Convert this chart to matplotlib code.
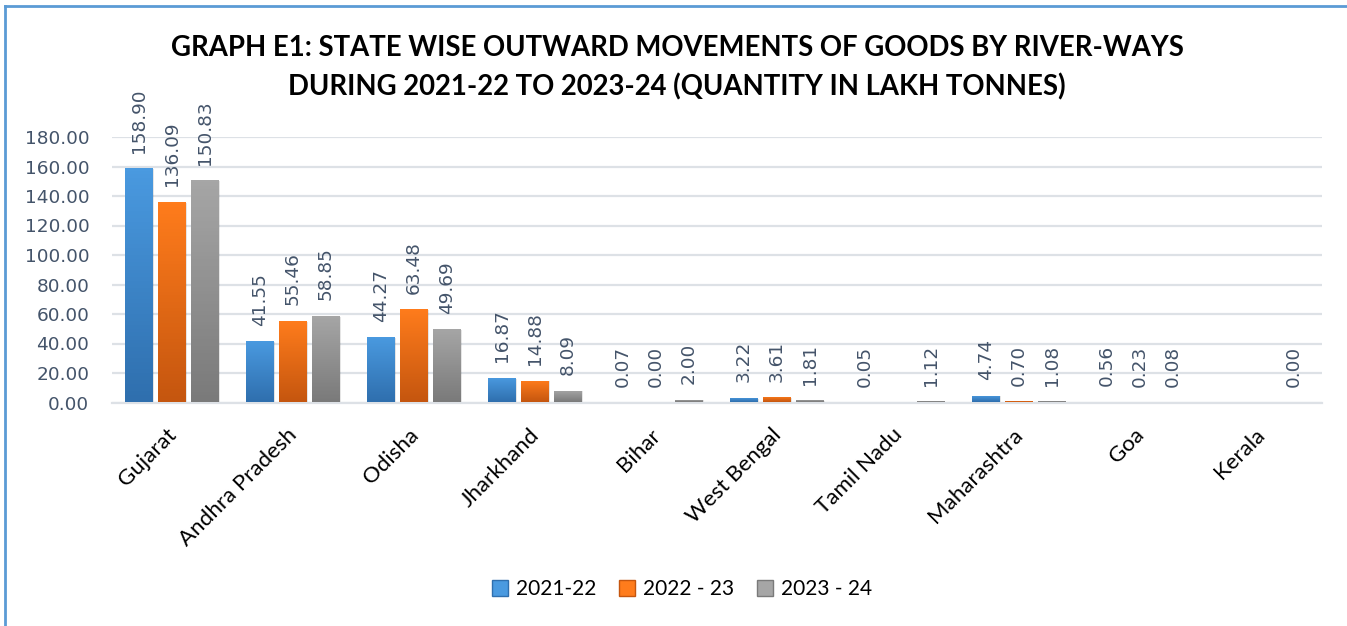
import numpy as np
import matplotlib
matplotlib.use("Agg")
import matplotlib.pyplot as plt
import matplotlib.transforms as mtransforms
from matplotlib.colors import LinearSegmentedColormap
from matplotlib.lines import Line2D
from matplotlib.patches import Rectangle

states = ["Gujarat", "Andhra Pradesh", "Odisha", "Jharkhand", "Bihar",
          "West Bengal", "Tamil Nadu", "Maharashtra", "Goa", "Kerala"]
series_names = ["2021-22", "2022 - 23", "2023 - 24"]
v2122 = [158.90, 41.55, 44.27, 16.87, 0.07, 3.22, 0.05, 4.74, 0.56, np.nan]
v2223 = [136.09, 55.46, 63.48, 14.88, 0.00, 3.61, np.nan, 0.70, 0.23, np.nan]
v2324 = [150.83, 58.85, 49.69, 8.09, 2.00, 1.81, 1.12, 1.08, 0.08, 0.00]
yticks = [0, 20, 40, 60, 80, 100, 120, 140, 160, 180]
title = ("GRAPH E1: STATE WISE OUTWARD MOVEMENTS OF GOODS BY RIVER-WAYS\n"
         "DURING 2021-22 TO 2023-24 (QUANTITY IN LAKH TONNES)")

grad = [("#4a9ae0", "#2f6fae"), ("#ff7c1c", "#c5560f"), ("#a6a6a6", "#7a7a7a")]
label_color = "#44546a"

W, H = 1347, 626
fig = plt.figure(figsize=(W / 100, H / 100), dpi=100)
ax = fig.add_axes([111.5 / W, 1 - 402.5 / H, (1321.5 - 111.5) / W, (402.5 - 137) / H])

x = np.arange(len(states))
width = 0.225
offs = [-0.273, 0.0, 0.273]
ax.set_xlim(-0.5, len(states) - 0.5)
ax.set_ylim(0, 180)

for k, vals in enumerate([v2122, v2223, v2324]):
    cmap = LinearSegmentedColormap.from_list("g%d" % k, [grad[k][1], grad[k][0]])
    bars = ax.bar(x + offs[k], vals, width, color="none", edgecolor="none", zorder=3)
    for b, v in zip(bars, vals):
        if np.isnan(v):
            continue
        x0, y0, w, h = b.get_x(), b.get_y(), b.get_width(), b.get_height()
        if h > 0:
            ax.add_patch(Rectangle((x0 + 0.012, y0 - 0.6), w, h, facecolor="#000000",
                                   alpha=0.10, edgecolor="none", zorder=2))
            im = ax.imshow(np.linspace(0, 1, 64).reshape(-1, 1), cmap=cmap, origin="lower",
                           extent=[x0, x0 + w, y0, y0 + h], aspect="auto", zorder=3)
            im.set_clip_path(b)
        ax.annotate("%.2f" % v, (x0 + w / 2, v), xytext=(0, 11), textcoords="offset points",
                    rotation=90, ha="center", va="bottom", fontsize=13.3,
                    color=label_color, family="DejaVu Sans", zorder=4)

ax.set_yticks(yticks)
ax.set_yticklabels(["%.2f" % t for t in yticks], fontsize=13.3, color=label_color,
                   family="DejaVu Sans")
ax.yaxis.grid(True, color="#dde1e6", linewidth=1.6, zorder=0)
ax.set_axisbelow(True)
ax.tick_params(axis="y", length=0, pad=16)
ax.tick_params(axis="x", length=0, pad=16)
ax.set_xticks(x)
ax.set_xticklabels(states, rotation=45, ha="right", va="top", rotation_mode="anchor",
                   fontsize=16, family="Lato", color="black")
for s in ["top", "right", "left"]:
    ax.spines[s].set_visible(False)
ax.spines["bottom"].set_color("#dde1e6")
ax.spines["bottom"].set_linewidth(1.6)

offset = mtransforms.ScaledTranslation(-6 / 100, 0, fig.dpi_scale_trans)
for lbl in ax.get_xticklabels():
    lbl.set_transform(lbl.get_transform() + offset)

fig.text(677 / W, 1 - 68 / H, title, ha="center", va="center", fontsize=19.8,
         fontweight="bold", family="Lato", linespacing=1.55, color="black")

handles = [Line2D([], [], marker="s", linestyle="none", markersize=11,
                  markerfacecolor=grad[k][0], markeredgecolor=grad[k][1]) for k in range(3)]
fig.legend(handles, series_names, loc="center", bbox_to_anchor=(681 / W, 1 - 589 / H),
           ncol=3, frameon=False, prop={"family": "Lato", "size": 15},
           handletextpad=0.25, columnspacing=1.0, handlelength=1.0)

fig.add_artist(Line2D([5 / W, 5 / W], [0, 1 - 6 / H], transform=fig.transFigure,
                      color="#5b9bd5", linewidth=2))
fig.add_artist(Line2D([5 / W, 1], [1 - 6 / H, 1 - 6 / H], transform=fig.transFigure,
                      color="#5b9bd5", linewidth=2))

fig.savefig("out.png", dpi=100)
